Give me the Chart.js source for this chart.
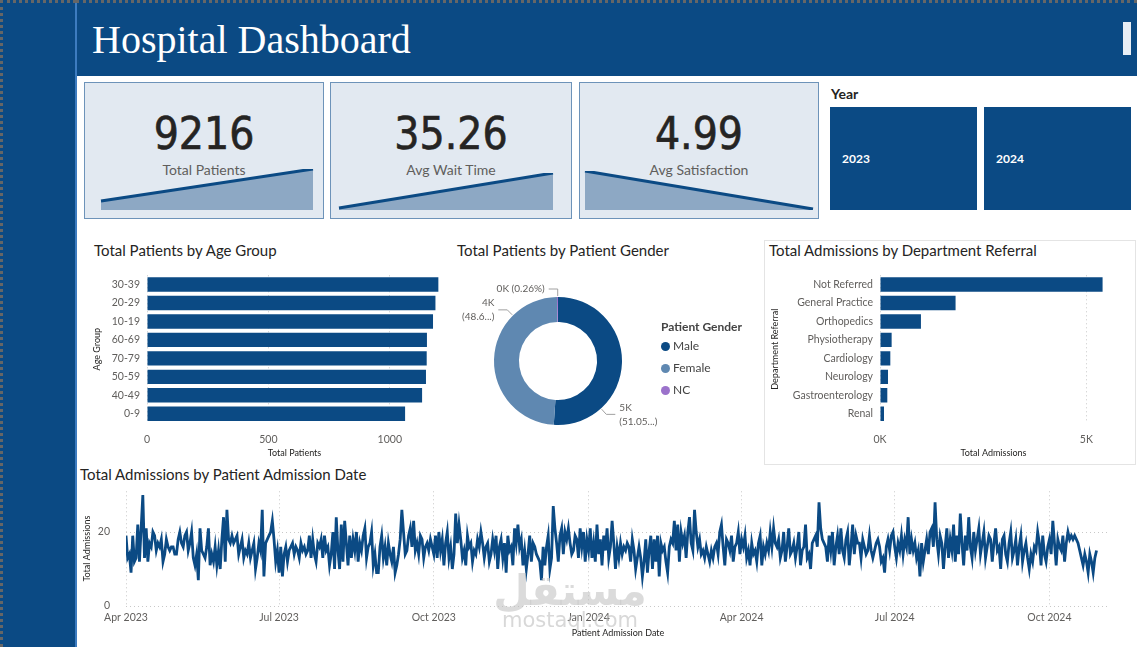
<!DOCTYPE html>
<html>
<head>
<meta charset="utf-8">
<script src="https://cdn.jsdelivr.net/npm/chart.js@4.4.0/dist/chart.umd.min.js"></script>
<style>
  body { margin: 0; width: 1137px; height: 647px; overflow: hidden; background: #fff; position: relative; font-family: Lato, "Open Sans", sans-serif; color: #252423; }
  .abs { position: absolute; }
  #side { left: 0; top: 0; width: 76px; height: 647px; background: #0b4a84; border-top: 3px dotted #666; border-left: 3px dotted #666; box-sizing: border-box; }
  #header { left: 76px; top: 0; width: 1061px; height: 76px; background: #0b4a84; border-top: 3px dotted #666; box-sizing: border-box; }
  #edge { left: 75px; top: 3px; width: 2px; height: 644px; background: #3d7cc0; }
  #title { left: 92px; top: 18px; font-family: "Liberation Serif", serif; font-size: 40px; color: #fff; line-height: 44px; }
  #knob { left: 1123px; top: 22px; width: 8px; height: 33px; background: #e8eef5; }
  .card { background: #e2e9f1; border: 1px solid #6d93b9; box-sizing: border-box; }
  .num { font-family: "DejaVu Sans Condensed", "DejaVu Sans", sans-serif; font-size: 44px; line-height: 44px; text-align: center; color: #252423; -webkit-text-stroke: 0.6px #252423; }
  .lbl { font-size: 14px; line-height: 16px; text-align: center; color: #605e5c; }
  .tile { background: #0b4a84; color: #fff; font-size: 12px; font-weight: bold; line-height: 103px; padding-left: 12px; box-sizing: border-box; }
  .ctitle { font-size: 15px; line-height: 18px; color: #252423; }
  #deptbox { left: 764px; top: 240px; width: 372px; height: 225px; border: 1px solid #e4e4e4; box-sizing: border-box; }
  .leg { font-size: 12px; line-height: 14px; color: #444; }
  .dot { display: inline-block; width: 9px; height: 9px; border-radius: 50%; margin-right: 3px; vertical-align: -0.5px; }
  #wm1 { left: 470px; top: 566px; width: 200px; text-align: center; font-family: "DejaVu Sans", sans-serif; font-weight: bold; font-size: 42px; color: rgba(190,190,190,0.55); line-height: 50px; }
  #wm2 { left: 470px; top: 607px; width: 200px; text-align: center; font-family: "DejaVu Sans", sans-serif; font-size: 21px; color: rgba(190,190,190,0.6); line-height: 26px; }
</style>
</head>
<body>
<div id="side" class="abs"></div>
<div id="header" class="abs"></div>
<div id="edge" class="abs"></div>
<div id="title" class="abs">Hospital Dashboard</div>
<div id="knob" class="abs"></div>

<div class="abs card" style="left:84px;top:82px;width:240px;height:137px"></div>
<div class="abs card" style="left:330px;top:82px;width:242px;height:137px"></div>
<div class="abs card" style="left:579px;top:82px;width:240px;height:137px"></div>
<div id="kpis"></div>

<div class="abs" style="left:831px;top:85px;font-size:14px;font-weight:bold;color:#252423">Year</div>
<div id="years"></div>

<div class="abs ctitle" style="left:94px;top:241px">Total Patients by Age Group</div>
<div class="abs ctitle" style="left:457px;top:241px">Total Patients by Patient Gender</div>
<div id="deptbox" class="abs"></div>
<div class="abs ctitle" style="left:769px;top:241px">Total Admissions by Department Referral</div>
<div class="abs ctitle" style="left:80px;top:465px">Total Admissions by Patient Admission Date</div>

<div class="abs" style="left:88px;top:262px;width:358px;height:200px"><canvas id="ageChart" width="358" height="200"></canvas></div>
<div class="abs" style="left:450px;top:270px;width:216px;height:182px"><canvas id="genderChart" width="216" height="182"></canvas></div>
<div id="genderLegend" class="abs" style="left:661px;top:319px"></div>
<div class="abs" style="left:766px;top:262px;width:368px;height:200px"><canvas id="deptChart" width="368" height="200"></canvas></div>
<div class="abs" style="left:78px;top:469px;width:1046px;height:175px"><canvas id="dateChart" width="1046" height="175"></canvas></div>

<div id="sp1" class="abs" style="left:98px;top:164px;width:218px;height:48px"><canvas id="spark1" width="218" height="48"></canvas></div>
<div id="sp2" class="abs" style="left:336px;top:168px;width:220px;height:44px"><canvas id="spark2" width="220" height="44"></canvas></div>
<div id="sp3" class="abs" style="left:582px;top:166px;width:234px;height:46px"><canvas id="spark3" width="234" height="46"></canvas></div>

<div id="wm1" class="abs">مستقل</div>
<div id="wm2" class="abs">mostaql.com</div>

<script>
// KPI cards
const kpiValues = ["9216", "35.26", "4.99"]
const kpiLabels = ["Total Patients", "Avg Wait Time", "Avg Satisfaction"]
const kpiLeft = [84, 330, 579]
const kpiWidth = [240, 242, 240]

// sparkline trends (first year -> last year)
const patientsTrend = [2010, 9216]
const waitTrend = [35.0, 35.26]
const satisfactionTrend = [5.01, 4.97]

const years = ["2023", "2024"]

// age group chart
const ageGroups = ["30-39", "20-29", "10-19", "60-69", "70-79", "50-59", "40-49", "0-9"]
const agePatients = [1200, 1188, 1178, 1153, 1152, 1149, 1133, 1063]
const ageTicks = [0, 500, 1000]

// gender donut
const genders = ["Male", "Female", "NC"]
const genderPatients = [4705, 4487, 24]
const genderColors = ["#0b4a84", "#5f88b1", "#9b72cb"]
const genderLabelText = [["5K", "(51.05...)"], ["4K", "(48.6...)"], ["0K (0.26%)"]]

// department referral
const departments = ["Not Referred", "General Practice", "Orthopedics", "Physiotherapy", "Cardiology", "Neurology", "Gastroenterology", "Renal"]
const deptAdmissions = [5393, 1831, 992, 282, 250, 194, 177, 97]
const deptTicks = [0, 5000]

// daily admissions, 1 Apr 2023 .. 29 Oct 2024
const dailyAdmissions = [
  // Apr 2023
  19, 13, 14, 9, 19, 12, 13, 22, 12, 21, 30, 13, 21, 12, 17, 16, 20, 19, 15, 17, 16, 18, 12, 14, 18, 16, 15, 16, 16, 14,
  // May
  14, 18, 20, 17, 16, 19, 20, 15, 17, 20, 13, 11, 14, 7, 21, 15, 14, 13, 16, 21, 11, 14, 12, 16, 11, 15, 10, 18, 24, 12, 26,
  // Jun
  18, 17, 19, 17, 18, 19, 14, 16, 18, 13, 15, 14, 17, 13, 15, 17, 10, 13, 17, 15, 26, 8, 17, 18, 19, 20, 23, 18, 12, 15,
  // Jul
  9, 16, 8, 14, 16, 12, 15, 16, 17, 14, 16, 15, 13, 17, 15, 16, 14, 15, 19, 13, 18, 14, 12, 17, 16, 18, 13, 19, 15, 16, 11,
  // Aug
  14, 20, 10, 24, 15, 10, 22, 12, 23, 17, 11, 19, 13, 18, 15, 20, 12, 17, 15, 19, 21, 13, 16, 17, 20, 11, 14, 9, 9, 16, 19,
  // Sep
  13, 16, 11, 17, 14, 12, 16, 9, 11, 14, 18, 26, 20, 14, 15, 19, 21, 16, 23, 15, 17, 14, 19, 18, 13, 16, 17, 15, 18, 16,
  // Oct
  14, 19, 13, 20, 15, 18, 11, 17, 20, 13, 16, 10, 14, 25, 17, 22, 18, 13, 15, 11, 19, 16, 17, 12, 15, 14, 18, 16, 20, 17, 13,
  // Nov
  16, 17, 12, 14, 18, 15, 19, 10, 16, 18, 13, 17, 9, 19, 15, 16, 11, 21, 17, 22, 16, 18, 11, 15, 10, 14, 19, 12, 17, 16,
  // Dec
  14, 13, 12, 7, 16, 11, 16, 19, 10, 13, 27, 21, 17, 12, 19, 21, 14, 20, 18, 21, 17, 14, 15, 19, 18, 13, 21, 16, 20, 12, 18,
  // Jan 2024
  15, 21, 13, 17, 12, 22, 14, 18, 11, 19, 15, 21, 13, 16, 23, 17, 10, 16, 13, 17, 14, 16, 15, 17, 16, 12, 18, 15, 10, 13, 16,
  // Feb
  13, 8, 12, 18, 9, 15, 19, 10, 18, 12, 19, 8, 17, 15, 16, 12, 9, 16, 18, 17, 23, 15, 22, 12, 20, 17, 19, 13, 20,
  // Mar
  24, 17, 15, 26, 20, 16, 18, 14, 15, 13, 16, 14, 12, 15, 13, 16, 17, 14, 20, 22, 16, 11, 18, 17, 15, 19, 12, 16, 17, 20, 14,
  // Apr
  18, 16, 19, 13, 15, 11, 17, 14, 15, 12, 17, 19, 11, 16, 14, 17, 15, 20, 16, 21, 17, 16, 18, 13, 15, 20, 12, 16, 21, 14,
  // May
  15, 17, 13, 16, 20, 11, 15, 16, 22, 13, 14, 10, 17, 18, 19, 16, 28, 21, 18, 17, 16, 12, 19, 15, 20, 11, 16, 19, 14, 21, 15,
  // Jun
  13, 18, 20, 11, 16, 22, 14, 19, 17, 17, 13, 18, 16, 14, 15, 19, 15, 13, 15, 17, 18, 16, 12, 13, 9, 16, 18, 15, 19, 20,
  // Jul
  16, 13, 17, 15, 19, 14, 18, 16, 24, 14, 18, 15, 17, 13, 15, 8, 17, 12, 15, 18, 14, 20, 21, 16, 28, 18, 14, 19, 17, 10, 16,
  // Aug
  21, 13, 18, 15, 22, 12, 19, 14, 25, 17, 11, 19, 15, 24, 16, 13, 20, 15, 18, 21, 14, 17, 20, 13, 16, 19, 18, 12, 17, 21, 15,
  // Sep
  16, 10, 18, 19, 14, 12, 17, 20, 13, 15, 18, 11, 16, 19, 12, 15, 17, 13, 10, 14, 12, 16, 15, 20, 17, 11, 19, 14, 12, 16,
  // Oct
  18, 14, 23, 17, 11, 18, 16, 15, 19, 12, 17, 20, 18, 19, 18, 19, 18, 17, 15, 13, 11, 14, 12, 9, 14, 12, 9, 13, 15
]
// day offsets from 1 Apr 2023 of the quarter ticks
const dateTickDays = [0, 91, 183, 275, 366, 457, 549]
const dateTickLabels = ["Apr 2023", "Jul 2023", "Oct 2023", "Jan 2024", "Apr 2024", "Jul 2024", "Oct 2024"]
const admissionTicks = [0, 20]

const blue = "#0b4a84"
const tickColor = "#605e5c"
const gridDash = [1, 3]
const gridColor = "#c8c8c8"
Chart.defaults.font.family = "Lato, 'Open Sans', sans-serif"
Chart.defaults.animation = false
Chart.defaults.responsive = false

function drawKpis() {
    const holder = document.getElementById("kpis")
    kpiValues.forEach((value, i) => {
        const num = document.createElement("div")
        num.className = "abs num"
        num.style.left = kpiLeft[i] + "px"
        num.style.width = kpiWidth[i] + "px"
        num.style.top = "112px"
        num.textContent = value
        holder.appendChild(num)

        const lbl = document.createElement("div")
        lbl.className = "abs lbl"
        lbl.style.left = kpiLeft[i] + "px"
        lbl.style.width = kpiWidth[i] + "px"
        lbl.style.top = "162px"
        lbl.textContent = kpiLabels[i]
        holder.appendChild(lbl)
    })

    const yearHolder = document.getElementById("years")
    years.forEach((year, i) => {
        const tile = document.createElement("div")
        tile.className = "abs tile"
        tile.style.left = (830 + i * 154) + "px"
        tile.style.top = "107px"
        tile.style.width = "147px"
        tile.style.height = "103px"
        tile.textContent = year
        yearHolder.appendChild(tile)
    })
}

function drawSpark(id, values, min, max, padTop) {
    new Chart(id, {
        type: "line",
        data: {
            labels: values.map((v, i) => i),
            datasets: [{
                data: values,
                borderColor: blue,
                borderWidth: 3,
                backgroundColor: "#8da8c4",
                fill: "start",
                pointRadius: 0,
                tension: 0
            }]
        },
        options: {
            layout: { padding: { left: 3, right: 3, top: padTop, bottom: 2 } },
            plugins: { legend: { display: false }, tooltip: { enabled: false } },
            scales: {
                x: { display: false },
                y: { display: false, min: min, max: max }
            }
        }
    })
}

function hBar(id, labels, values, max, tickValues, yWidth, yTitle, xTitle, padRight, fmt) {
    new Chart(id, {
        type: "bar",
        data: {
            labels: labels,
            datasets: [{ data: values, backgroundColor: blue, barPercentage: 0.78, categoryPercentage: 1 }]
        },
        options: {
            indexAxis: "y",
            layout: { padding: { top: 9, right: padRight } },
            plugins: { legend: { display: false }, tooltip: { enabled: false } },
            scales: {
                x: {
                    min: 0, max: max, bounds: "data",
                    afterBuildTicks: s => { s.ticks = tickValues.map(v => ({ value: v })) },
                    ticks: { color: tickColor, font: { size: 10.5 }, padding: 10, callback: fmt },
                    grid: { color: gridColor, drawTicks: false },
                    border: { display: false, dash: gridDash },
                    title: { display: true, text: xTitle, color: "#252423", font: { size: 9 }, padding: { top: 2, bottom: 4 } },
                    afterFit: s => { s.height = 39 }
                },
                y: {
                    ticks: { color: tickColor, font: { size: 10.5 }, padding: 7 },
                    grid: { display: false, drawTicks: false },
                    border: { display: false },
                    title: { display: true, text: yTitle, color: "#252423", font: { size: 9 }, padding: { top: 4, bottom: 6 } },
                    afterFit: s => { s.width = yWidth }
                }
            }
        }
    })
}

// labels with leader lines, placed 3/4 of the way along each slice
const donutLabels = {
    id: "donutLabels",
    afterDraw(chart) {
        const ctx = chart.ctx
        const arcs = chart.getDatasetMeta(0).data
        ctx.save()
        ctx.font = "10px Lato, 'Open Sans', sans-serif"
        ctx.fillStyle = tickColor
        ctx.strokeStyle = "#a0a0a0"
        ctx.lineWidth = 1
        arcs.forEach((arc, i) => {
            const a = arc.startAngle + (arc.endAngle - arc.startAngle) * 0.75
            const cx = arc.x, cy = arc.y, r = arc.outerRadius
            const x1 = cx + Math.cos(a) * (r + 1), y1 = cy + Math.sin(a) * (r + 1)
            const x2 = cx + Math.cos(a) * (r + 8), y2 = cy + Math.sin(a) * (r + 8)
            const right = x2 > cx + 1
            const x3 = x2 + (right ? 9 : -9)
            ctx.beginPath()
            ctx.moveTo(x1, y1); ctx.lineTo(x2, y2); ctx.lineTo(x3, y2)
            ctx.stroke()
            const lines = genderLabelText[i]
            ctx.textAlign = right ? "left" : "right"
            ctx.textBaseline = "middle"
            const tx = x3 + (right ? 4 : -4)
            lines.forEach((t, k) => {
                ctx.fillText(t, tx, y2 + (k - (lines.length - 1) / 2) * 14)
            })
        })
        ctx.restore()
    }
}

function drawGender() {
    new Chart("genderChart", {
        type: "doughnut",
        data: {
            labels: genders,
            datasets: [{ data: genderPatients, backgroundColor: genderColors, borderWidth: 0 }]
        },
        options: {
            cutout: "61%",
            layout: { padding: 27 },
            plugins: { legend: { display: false }, tooltip: { enabled: false } }
        },
        plugins: [donutLabels]
    })

    const legend = document.getElementById("genderLegend")
    const head = document.createElement("div")
    head.style.cssText = "font-size:12px;font-weight:bold;color:#444;line-height:16px;margin-bottom:4px"
    head.textContent = "Patient Gender"
    legend.appendChild(head)
    genders.forEach((g, i) => {
        const row = document.createElement("div")
        row.className = "leg"
        row.style.marginBottom = "8px"
        row.innerHTML = `<span class="dot" style="background:${genderColors[i]}"></span>${g}`
        legend.appendChild(row)
    })
}

function drawDates() {
    new Chart("dateChart", {
        type: "line",
        data: {
            datasets: [{
                data: dailyAdmissions.map((v, i) => ({ x: i, y: v })),
                borderColor: blue,
                borderWidth: 2.8,
                pointRadius: 0,
                tension: 0
            }]
        },
        options: {
            parsing: false,
            layout: { padding: { top: 7, right: 14 } },
            plugins: { legend: { display: false }, tooltip: { enabled: false } },
            scales: {
                x: {
                    type: "linear", min: 0, max: 585, bounds: "data",
                    afterBuildTicks: s => { s.ticks = dateTickDays.map(v => ({ value: v })) },
                    ticks: { color: tickColor, font: { size: 10.5 }, padding: 5, callback: v => dateTickLabels[dateTickDays.indexOf(v)] },
                    grid: { color: gridColor, drawTicks: false },
                    border: { display: false, dash: gridDash },
                    title: { display: true, text: "Patient Admission Date", color: "#252423", font: { size: 9 }, padding: { top: 2, bottom: 6 } },
                    afterFit: s => { s.height = 38 }
                },
                y: {
                    min: 0, max: 31, bounds: "data",
                    afterBuildTicks: s => { s.ticks = admissionTicks.map(v => ({ value: v })) },
                    ticks: { color: tickColor, font: { size: 10.5 }, padding: 16 },
                    grid: { color: gridColor, drawTicks: false },
                    border: { display: false, dash: gridDash },
                    title: { display: true, text: "Total Admissions", color: "#252423", font: { size: 9 }, padding: { top: 4, bottom: 4 } },
                    afterFit: s => { s.width = 48 }
                }
            }
        }
    })
}

drawKpis()
drawSpark("spark1", patientsTrend, 0, 9216, 5)
drawSpark("spark2", waitTrend, 34.985, 35.26, 5)
drawSpark("spark3", satisfactionTrend, 4.969, 5.01, 5)
hBar("ageChart", ageGroups, agePatients, 1215, ageTicks, 59, "Age Group", "Total Patients", 4, v => v)
hBar("deptChart", departments, deptAdmissions, 5500, deptTicks, 114, "Department Referral", "Total Admissions", 27, v => (v / 1000) + "K")
drawGender()
drawDates()
</script>
</body>
</html>
